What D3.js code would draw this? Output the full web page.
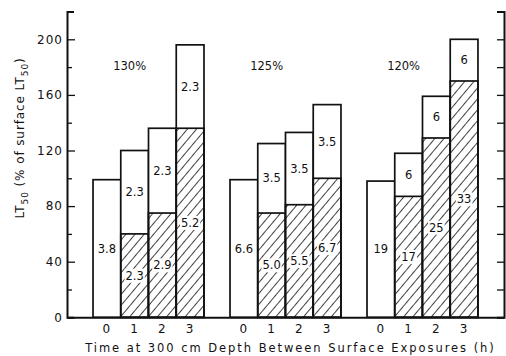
<!DOCTYPE html>
<html>
<head>
<meta charset="utf-8">
<script src="https://cdn.jsdelivr.net/npm/d3@7"></script>
<style>
  body { margin: 0; background: #fff; }
  svg { display: block; font-family: "DejaVu Sans", sans-serif; }
</style>
</head>
<body>
<svg id="chart"></svg>
<script>
// LT50 after time at 300 cm depth, three surface exposure levels

const width = 506;
const height = 356;

const groups = ["130%", "125%", "120%"];
const hours = ["0", "1", "2", "3"];

// hatched (lower) part and total height of each bar, % of surface LT50
const hatched = [
  [0, 60, 75, 136],
  [0, 75, 81, 100],
  [0, 87, 129, 170]
];
const totals = [
  [99, 120, 136, 196],
  [99, 125, 133, 153],
  [98, 118, 159, 200]
];
// numbers written inside the bars
const lowerLabels = [
  ["3.8", "2.3", "2.9", "5.2"],
  ["6.6", "5.0", "5.5", "6.7"],
  ["19", "17", "25", "33"]
];
const upperLabels = [
  [null, "2.3", "2.3", "2.3"],
  [null, "3.5", "3.5", "3.5"],
  [null, "6", "6", "6"]
];
const yTicks = [0, 20, 40, 60, 80, 100, 120, 140, 160, 180, 200, 220];

const margin = {left: 67, right: 2, top: 11.5, bottom: 38.7};

const svg = d3.select("#chart")
  .attr("width", width)
  .attr("height", height);

const defs = svg.append("defs");
defs.append("pattern")
  .attr("id", "hatch")
  .attr("patternUnits", "userSpaceOnUse")
  .attr("width", 7)
  .attr("height", 7)
  .attr("patternTransform", "rotate(40)")
  .append("line")
  .attr("x1", 0).attr("y1", 0)
  .attr("x2", 0).attr("y2", 7)
  .attr("stroke", "#111")
  .attr("stroke-width", 1.6);

const x = d3.scaleBand()
  .domain(groups)
  .range([margin.left, width - margin.right])
  .paddingInner(0.19)
  .paddingOuter(0.19);

const xi = d3.scaleBand()
  .domain(hours)
  .range([0, x.bandwidth()]);

const y = d3.scaleLinear()
  .domain([0, 220])
  .range([height - margin.bottom, margin.top]);

// bars
const bars = [];
groups.forEach((g, gi) => {
  hours.forEach((h, hi) => {
    bars.push({
      g, h,
      hatch: hatched[gi][hi],
      total: totals[gi][hi],
      low: lowerLabels[gi][hi],
      up: upperLabels[gi][hi]
    });
  });
});

const bar = svg.append("g")
  .selectAll("g")
  .data(bars)
  .join("g")
  .attr("transform", d => `translate(${x(d.g) + xi(d.h)},0)`);

bar.append("rect")
  .attr("x", 0)
  .attr("width", xi.bandwidth())
  .attr("y", d => y(d.total))
  .attr("height", d => y(0) - y(d.total))
  .attr("fill", "#fff")
  .attr("stroke", "#111")
  .attr("stroke-width", 1.7);

bar.filter(d => d.hatch > 0)
  .append("rect")
  .attr("x", 0)
  .attr("width", xi.bandwidth())
  .attr("y", d => y(d.hatch))
  .attr("height", d => y(0) - y(d.hatch))
  .attr("fill", "url(#hatch)")
  .attr("stroke", "#111")
  .attr("stroke-width", 1.7);

function barLabel(sel, txt, lo, hi) {
  const t = sel.append("text")
    .attr("x", xi.bandwidth() / 2)
    .attr("y", d => y((lo(d) + hi(d)) / 2))
    .attr("dy", "0.36em")
    .attr("text-anchor", "middle")
    .attr("font-size", 11.5)
    .attr("fill", "#111")
    .text(txt);
  t.each(function() {
    const b = this.getBBox();
    d3.select(this.parentNode).insert("rect", () => this)
      .attr("x", b.x - 1)
      .attr("y", b.y)
      .attr("width", b.width + 2)
      .attr("height", b.height)
      .attr("fill", "#fff");
  });
}

barLabel(bar, d => d.low, () => 0, d => d.hatch > 0 ? d.hatch : d.total);
barLabel(bar.filter(d => d.up), d => d.up, d => d.hatch, d => d.total);

// group names
svg.append("g")
  .selectAll("text")
  .data(groups)
  .join("text")
  .attr("x", d => x(d) + x.bandwidth() * 0.33)
  .attr("y", y(181))
  .attr("dy", "0.36em")
  .attr("text-anchor", "middle")
  .attr("font-size", 11.5)
  .attr("fill", "#111")
  .text(d => d);

// axes
const axisLeft = d3.axisLeft(y)
  .tickValues(yTicks)
  .tickSize(-7)
  .tickPadding(4)
  .tickFormat(d => d % 40 === 0 && d <= 200 ? d : "");

const gy = svg.append("g")
  .attr("transform", `translate(${margin.left},0)`)
  .call(axisLeft);
gy.selectAll(".tick line")
  .attr("x2", d => d % 40 === 0 ? 8 : 5);

const gr = svg.append("g")
  .attr("transform", `translate(${width - margin.right},0)`)
  .call(d3.axisRight(y).tickValues(yTicks).tickSize(-7).tickFormat(""));

const gx = svg.append("g")
  .attr("transform", `translate(0,${y(0)})`)
  .call(d3.axisBottom(x).tickSize(0).tickFormat(""));

groups.forEach(g => {
  svg.append("g")
    .attr("transform", `translate(${x(g)},${y(0)})`)
    .call(d3.axisBottom(xi).tickSize(0).tickPadding(7))
    .call(a => a.select(".domain").remove());
});

svg.selectAll(".domain")
  .attr("stroke", "#111")
  .attr("stroke-width", 2);
svg.selectAll(".tick line")
  .attr("stroke", "#111")
  .attr("stroke-width", 1.3);
svg.selectAll(".tick text")
  .attr("font-family", "DejaVu Sans, sans-serif")
  .attr("font-size", 12)
  .attr("letter-spacing", 1)
  .attr("fill", "#111");

// axis titles
svg.append("text")
  .attr("x", (margin.left + width - margin.right) / 2 + 5)
  .attr("y", 352)
  .attr("text-anchor", "middle")
  .attr("font-size", 11.5)
  .attr("letter-spacing", 1.95)
  .attr("fill", "#111")
  .text("Time at 300 cm Depth Between Surface Exposures (h)");

const yt = svg.append("text")
  .attr("transform", "translate(24,138) rotate(-90)")
  .attr("text-anchor", "middle")
  .attr("font-size", 12)
  .attr("letter-spacing", 0.9)
  .attr("fill", "#111");
yt.append("tspan").text("LT");
yt.append("tspan").attr("font-size", 9).attr("dy", 4).text("50");
yt.append("tspan").attr("dy", -4).text(" (% of surface LT");
yt.append("tspan").attr("font-size", 9).attr("dy", 4).text("50");
yt.append("tspan").attr("dy", -4).text(")");
</script>
</body>
</html>
